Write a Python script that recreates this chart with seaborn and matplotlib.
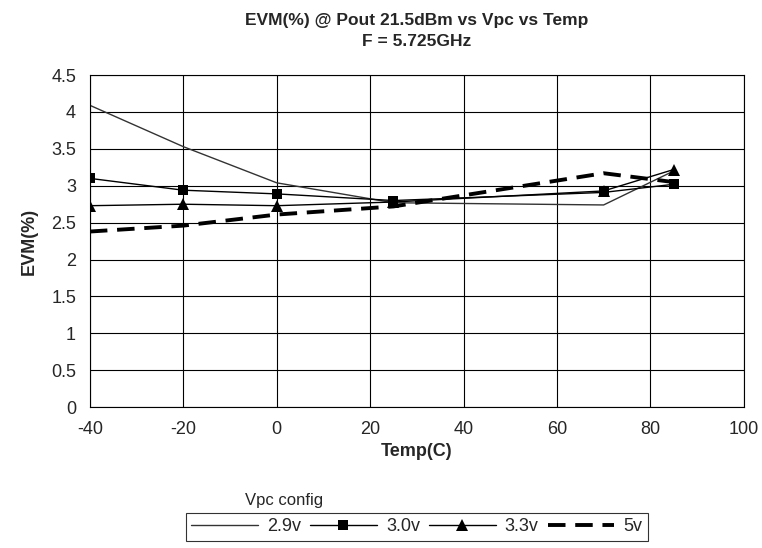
import matplotlib
matplotlib.use("Agg")
import matplotlib.pyplot as plt
import seaborn as sns

# EVM(%) readings at each temperature, per Vpc setting
temps = [-40, -20, 0, 25, 70, 85]
evm_29v = [4.09, 3.53, 3.04, 2.77, 2.74, 3.20]
evm_30v = [3.10, 2.94, 2.89, 2.80, 2.91, 3.02]
evm_33v = [2.73, 2.75, 2.73, 2.78, 2.93, 3.22]
evm_5v = [2.38, 2.46, 2.61, 2.72, 3.17, 3.05]
configs = ["2.9v", "3.0v", "3.3v", "5v"]
x_ticks = [-40, -20, 0, 20, 40, 60, 80, 100]
y_ticks = [0, 0.5, 1, 1.5, 2, 2.5, 3, 3.5, 4, 4.5]

sns.set_style("white")
plt.rcParams['font.family'] = ['Liberation Sans', 'DejaVu Sans']
plt.rcParams['axes.unicode_minus'] = False

fig = plt.figure(figsize=(7.62, 5.48), dpi=100)
ax = fig.add_axes([0.118, 0.257, 0.858, 0.606])

styles = {
    "2.9v": dict(color="#333333", lw=1.0),
    "3.0v": dict(color="black", lw=1.0, marker="s", markersize=7, markeredgewidth=0),
    "3.3v": dict(color="black", lw=1.0, marker="^", markersize=8, markeredgewidth=0),
    "5v": dict(color="black", lw=2.8, ls=(0, (4.5, 2.5))),
}
for name, vals in zip(configs, [evm_29v, evm_30v, evm_33v, evm_5v]):
    sns.lineplot(x=temps, y=vals, ax=ax, label=name, **styles[name])

ax.set_xlim(-40, 100)
ax.set_ylim(0, 4.5)
ax.set_xticks(x_ticks)
ax.set_xticklabels([str(v) for v in x_ticks])
ax.set_yticks(y_ticks)
ax.set_yticklabels([f"{v:g}" for v in y_ticks])
ax.grid(True, color="black", lw=0.8)
for sp in ax.spines.values():
    sp.set_color("black")
    sp.set_linewidth(0.8)
ax.tick_params(direction="inout", length=8, width=0.8, color="black",
               labelsize=13, pad=6)
ax.set_xlabel("")
ax.set_ylabel("")

fig.text(0.547, 1 - 20 / 548, "EVM(%) @ Pout 21.5dBm vs Vpc vs Temp",
         ha="center", va="center", fontsize=12.5, fontweight="bold")
fig.text(0.547, 1 - 42 / 548, "F = 5.725GHz",
         ha="center", va="center", fontsize=12.5, fontweight="bold")
fig.text(0.547, 1 - 452 / 548, "Temp(C)", ha="center", va="center",
         fontsize=13, fontweight="bold")
fig.text(0.039, 0.257 + 0.606 / 2, "EVM(%)", ha="center", va="center",
         rotation=90, fontsize=13, fontweight="bold")
fig.text(0.322, 1 - 500 / 548, "Vpc config", ha="left", va="center", fontsize=12)

handles, labels = ax.get_legend_handles_labels()
ax.get_legend().remove()
leg = fig.legend(handles, labels, ncol=4, loc="upper center",
                 bbox_to_anchor=(0.547, 1 - 513 / 548), borderaxespad=0,
                 frameon=True, fancybox=False, edgecolor="black", fontsize=13,
                 handlelength=3.7, columnspacing=0.5, handletextpad=0.5,
                 borderpad=0.3)
leg.get_frame().set_linewidth(0.8)

fig.savefig("out.png", dpi=100)
